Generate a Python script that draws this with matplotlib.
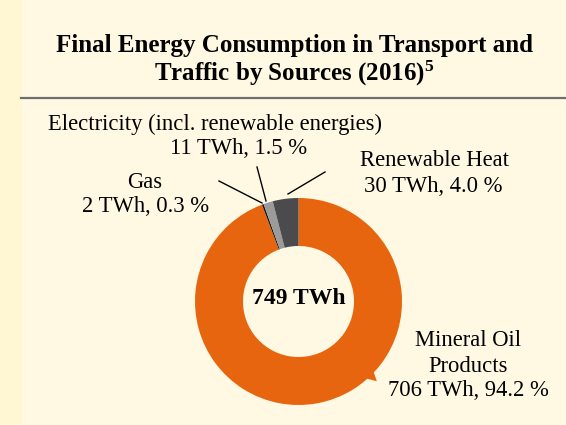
import matplotlib
matplotlib.use("Agg")
import matplotlib.pyplot as plt
import numpy as np

# data (clockwise from 12 o'clock)
sources = ["Mineral Oil Products", "Gas", "Electricity (incl. renewable energies)", "Renewable Heat"]
twh = [706, 2, 11, 30]
shares = [94.2, 0.3, 1.5, 4.0]
colors = ["#E8650F", "#141414", "#9B9B9B", "#4B4B4D"]
total_label = "749 TWh"
title_lines = ["Final Energy Consumption in Transport and", "Traffic by Sources (2016)$^{5}$"]

W, H = 566, 425
panel_bg = "#FFF9E4"
strip_bg = "#FFF6D3"
serif = ["Liberation Serif", "DejaVu Serif"]
plt.rcParams["mathtext.fontset"] = "custom"
plt.rcParams["mathtext.rm"] = "Liberation Serif:bold"
plt.rcParams["mathtext.it"] = "Liberation Serif:bold"

fig = plt.figure(figsize=(W / 100, H / 100), dpi=100, facecolor=panel_bg)

# overlay in pixel coordinates (y down)
ov = fig.add_axes([0, 0, 1, 1])
ov.set_xlim(0, W)
ov.set_ylim(H, 0)
ov.axis("off")
ov.axvspan(0, 21, color=strip_bg, zorder=0)
ov.plot([21, W], [97.5, 97.5], color="#6E6E6E", lw=1.6)

ov.text(294, 45, title_lines[0], ha="center", va="center", fontsize=18,
        fontweight="bold", family=serif)
ov.text(294, 73, title_lines[1], ha="center", va="center", fontsize=18,
        fontweight="bold", family=serif)

# pie axes
cx, cy, r = 298.5, 301.5, 103.5
pie_ax = fig.add_axes([(cx - r) / W, (H - cy - r) / H, 2 * r / W, 2 * r / H])
pie_ax.pie(twh, colors=colors, startangle=90, counterclock=False,
           wedgeprops=dict(width=1 - 55.5 / r, linewidth=0), radius=1)
pie_ax.set_xlim(-1, 1)
pie_ax.set_ylim(-1, 1)
pie_ax.set_aspect("equal")
pie_ax.axis("off")

# small callout notch on the oil ring
ang = np.radians([-43.0, -45.5, -48.7])
rad = np.array([0.99, 1.08, 0.99])
pie_ax.fill(rad * np.cos(ang), rad * np.sin(ang), color=colors[0], lw=0, clip_on=False)

pie_ax.text(0, 0.03, total_label, ha="center", va="center", fontsize=17,
            fontweight="bold", family=serif)

fs = 16.3
ov.text(215, 124, sources[2], ha="center", va="center", fontsize=fs, family=serif)
ov.text(239, 149, f"{twh[2]} TWh, {shares[2]:.1f} %", ha="center", va="center", fontsize=fs, family=serif)
ov.text(145, 182, sources[1], ha="center", va="center", fontsize=fs, family=serif)
ov.text(146, 206, f"{twh[1]} TWh, {shares[1]:.1f} %", ha="center", va="center", fontsize=fs, family=serif)
ov.text(435, 161, sources[3], ha="center", va="center", fontsize=fs, family=serif)
ov.text(433, 186, f"{twh[3]} TWh, {shares[3]:.1f} %", ha="center", va="center", fontsize=fs, family=serif)
ov.text(468, 341, "Mineral Oil", ha="center", va="center", fontsize=fs, family=serif)
ov.text(468, 366, "Products", ha="center", va="center", fontsize=fs, family=serif)
ov.text(468, 391, f"{twh[0]} TWh, {shares[0]:.1f} %", ha="center", va="center", fontsize=fs, family=serif)

# leader lines
ov.plot([257, 266], [167, 201], color="black", lw=1)
ov.plot([219, 262], [181, 203], color="black", lw=1)
ov.plot([325, 288], [172, 194], color="black", lw=1)

fig.savefig("out.png", dpi=100, facecolor=panel_bg)
